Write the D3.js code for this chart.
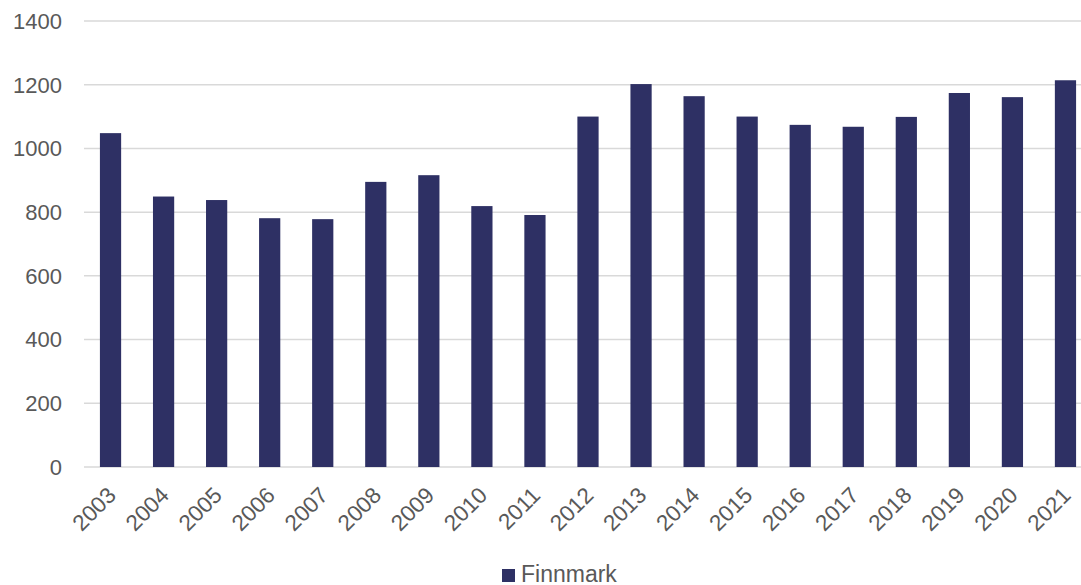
<!DOCTYPE html>
<html><head><meta charset="utf-8">
<script src="https://cdn.jsdelivr.net/npm/d3@7"></script>
<style>html,body{margin:0;padding:0;background:#fff;}svg{display:block;}</style>
</head><body>
<svg id="chart" width="1081" height="585"></svg>
<script>
const years = ["2003","2004","2005","2006","2007","2008","2009","2010","2011","2012","2013","2014","2015","2016","2017","2018","2019","2020","2021"];
const finnmark = [1048,849,838,781,778,895,916,819,791,1100,1202,1164,1100,1074,1068,1099,1174,1161,1214];
const yTicks = [0,200,400,600,800,1000,1200,1400];
const seriesName = "Finnmark";

const svg = d3.select("#chart");
const font = "'Liberation Sans', Arial, sans-serif";
const x = d3.scaleBand().domain(years).range([84, 1092]).paddingInner(0.6).paddingOuter(0.3);
const y = d3.scaleLinear().domain([0, 1400]).range([467, 21]);

// gridlines
svg.append("g").selectAll("line").data(yTicks).join("line")
  .attr("x1", 84).attr("x2", 1092)
  .attr("y1", d => y(d)).attr("y2", d => y(d))
  .attr("stroke", "#d9d9d9").attr("stroke-width", 1.5);

// y labels
svg.append("g").selectAll("text").data(yTicks).join("text")
  .attr("x", 62).attr("y", d => y(d)).attr("dy", "0.36em")
  .attr("text-anchor", "end").attr("font-family", font).attr("font-size", 22)
  .attr("fill", "#595959").text(d => d);

// bars
svg.append("g").selectAll("rect").data(years).join("rect")
  .attr("x", d => x(d)).attr("width", x.bandwidth())
  .attr("y", (d, i) => y(finnmark[i])).attr("height", (d, i) => y(0) - y(finnmark[i]))
  .attr("fill", "#2e3064");

// x labels
svg.append("g").selectAll("text").data(years).join("text")
  .attr("transform", d => `translate(${x(d) + x.bandwidth() / 2 + 1},${491}) rotate(-45)`)
  .attr("text-anchor", "end").attr("font-family", font).attr("font-size", 22.5)
  .attr("fill", "#595959").attr("dy", "0.36em").text(d => d);

// legend
svg.append("rect").attr("x", 502).attr("y", 569).attr("width", 13).attr("height", 13).attr("fill", "#2e3064");
svg.append("text").attr("x", 521).attr("y", 582).attr("font-family", font).attr("font-size", 23)
  .attr("fill", "#595959").text(seriesName);
</script>
</body></html>
